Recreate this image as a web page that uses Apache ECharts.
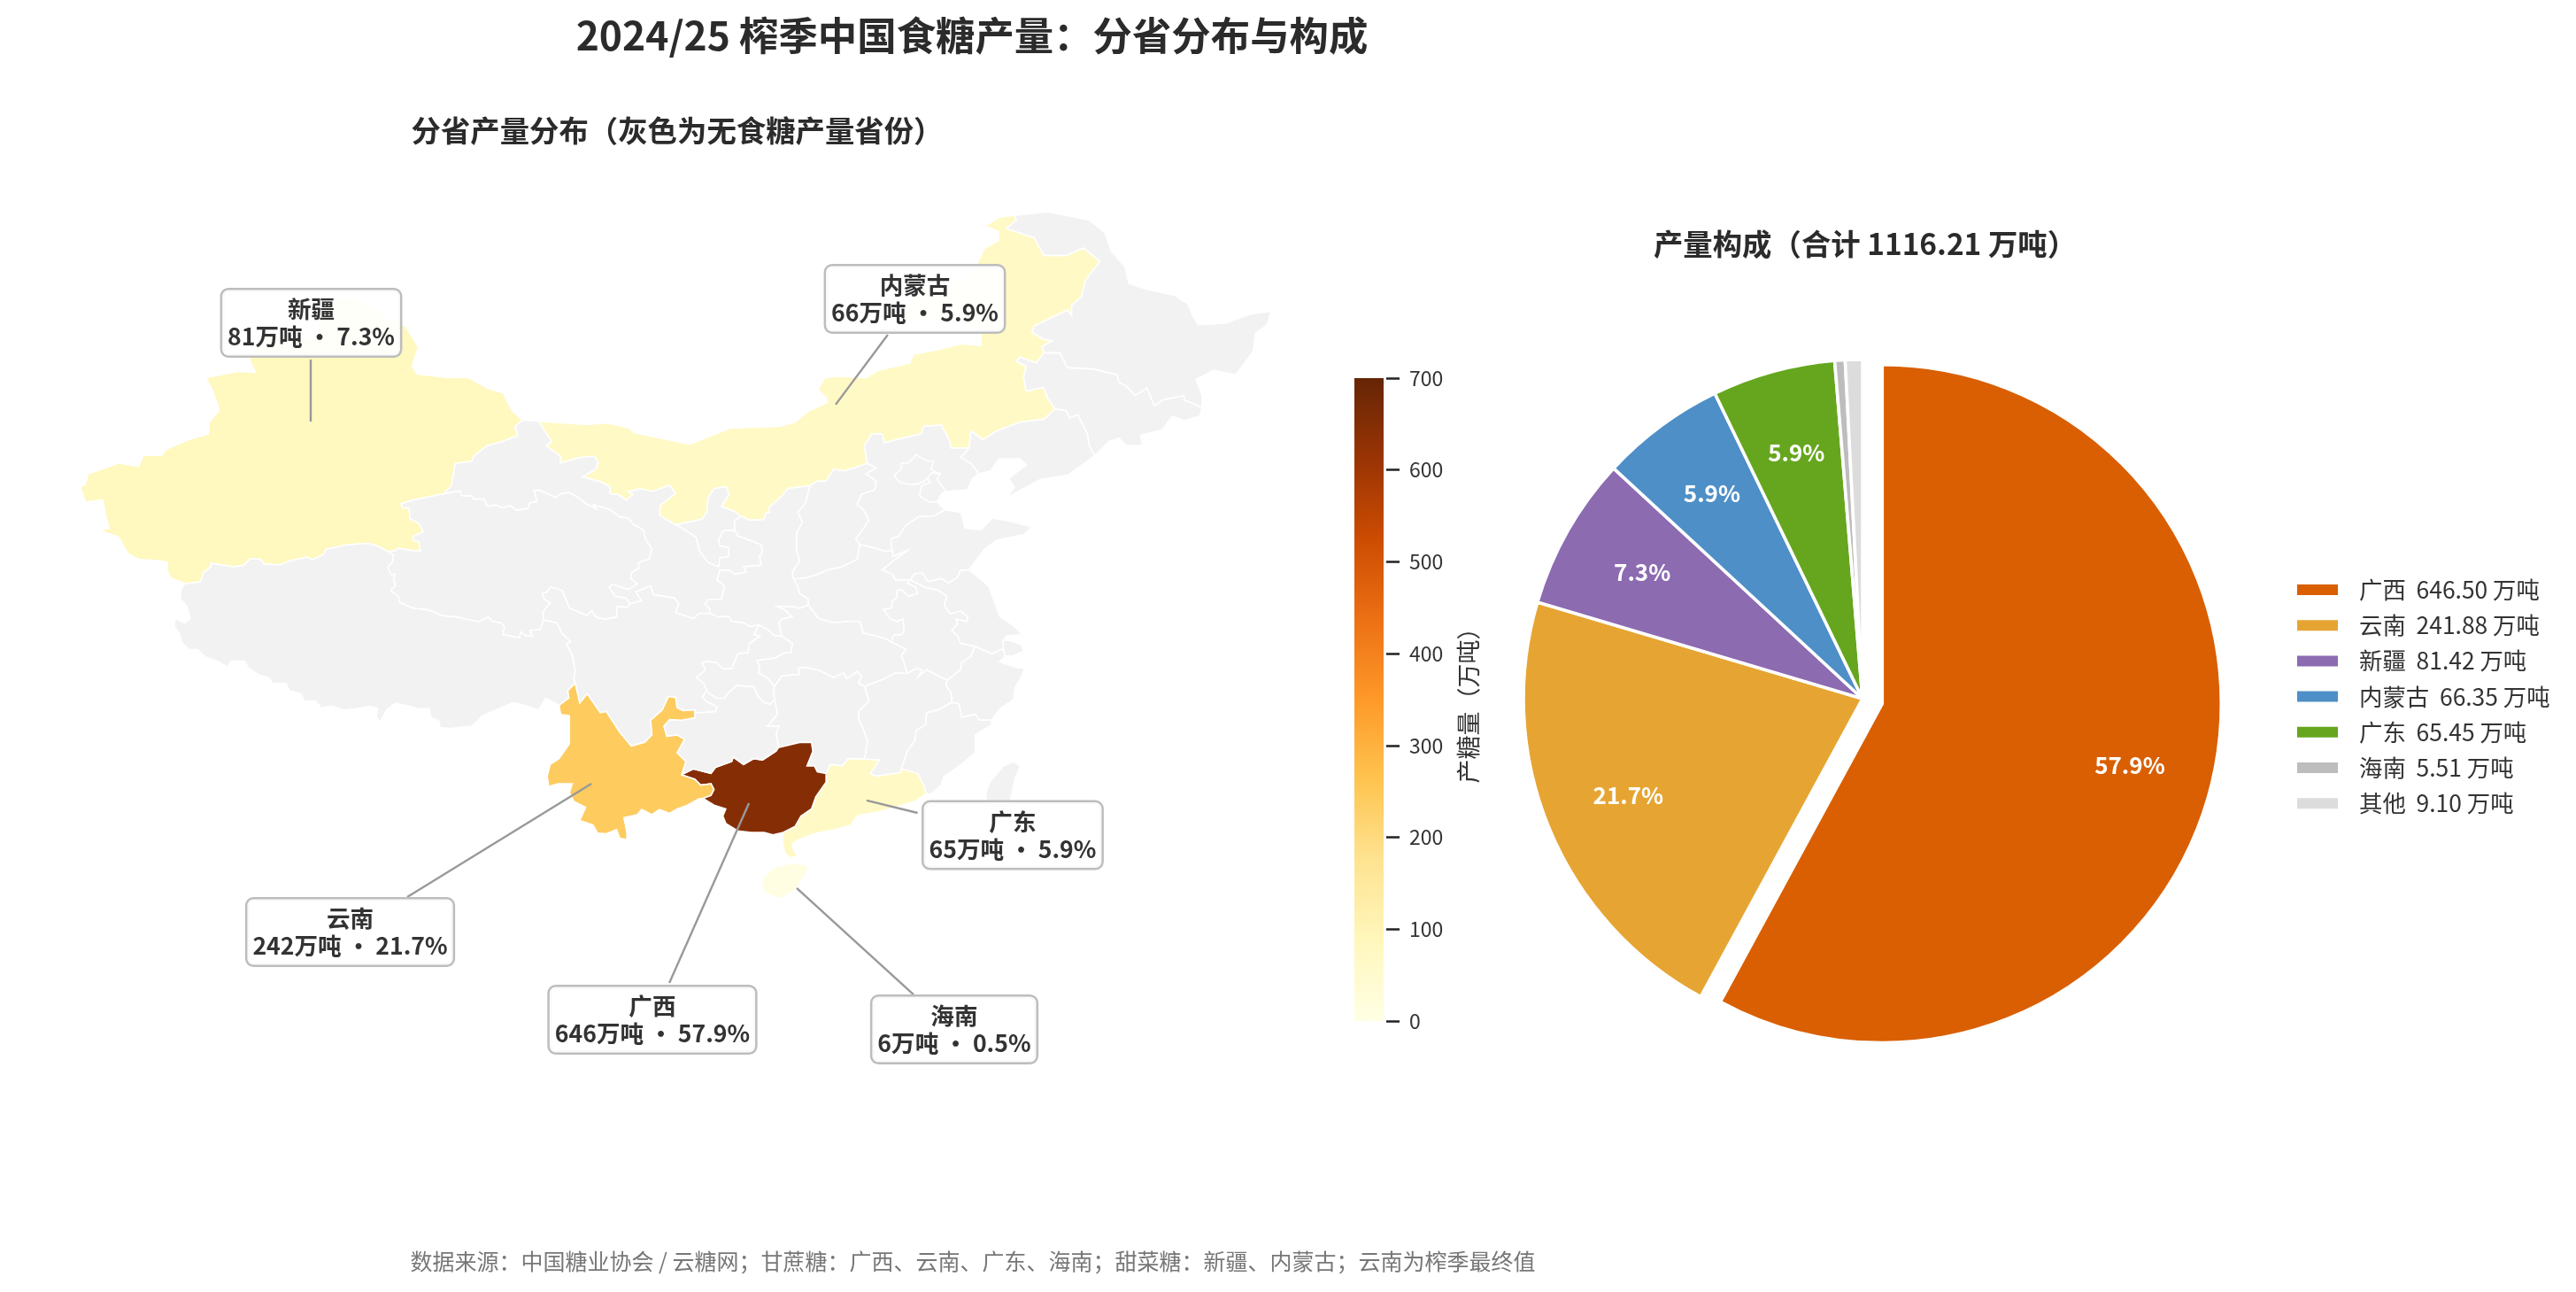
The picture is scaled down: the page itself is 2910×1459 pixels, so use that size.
<!DOCTYPE html>
<html>
<head>
<meta charset="utf-8">
<style>html,body{margin:0;padding:0;background:#fff}#c{width:2910px;height:1459px}</style>
<script src="https://cdn.jsdelivr.net/npm/echarts@6/dist/echarts.min.js"></script>
</head>
<body>
<div id="c"></div>
<script>
// ---------- data ----------
const provinces = ['广西','云南','新疆','内蒙古','广东','海南'];
const output = [646.50,241.88,81.42,66.35,65.45,5.51];
const roundedTons = [646,242,81,66,65,6];
const pieNames = ['广西','云南','新疆','内蒙古','广东','海南','其他'];
const pieValues = [646.50,241.88,81.42,66.35,65.45,5.51,9.10];
const pieColors = ['#d95f02','#e6a532','#8c6bb1','#4e8fc7','#66a61e','#bdbdbd','#dcdcdc'];
const ylOrBr = ['#ffffe5','#fff7bc','#fee391','#fec44f','#fe9929','#ec7014','#cc4c02','#993404','#662506'];
const totalTons = 1116.21;
// callout geography [lon, lat]: box centre, leader start (box side), leader end (in province)
const calloutBox = {广西:[102.88,12.03],云南:[87.36,16.53],新疆:[85.36,47.80],内蒙古:[116.36,49.03],广东:[121.38,21.50],海南:[118.38,11.53]};
const leaderFrom = {广西:[103.75,13.91],云南:[90.29,18.32],新疆:[85.34,45.91],内蒙古:[114.97,47.19],广东:[116.50,22.64],海南:[116.29,13.32]};
const leaderTo = {广西:[107.84,23.14],云南:[99.75,24.14],新疆:[85.34,42.73],内蒙古:[112.29,43.60],广东:[113.88,23.28],海南:[110.29,18.78]};

// ---------- simplified province boundaries as shared arcs, lon lat pairs ----------
const arcText = {
xjOuter:'96.2 42.8 95.66 43.31 95.2 44.2 94.4 44.45 93.46 44.98 92.3 45 90.8 45.16 90.55 45.58 90.86 46.57 90.2 47.63 88.35 48.6 87.5 49.1 86.8 49.1 85.7 48.3 85.6 47.2 85 47 83 47.2 82.3 46.2 82.2 45.9 82.5 45.25 81.6 45.3 79.95 44.98 80.28 44.37 80.65 43.31 80.12 42.7 80.1 42.1 79.07 41.8 77.9 41.3 77.68 41 76.75 41 76.5 40.43 75.47 40.6 74.78 40.35 73.9 40.05 73.78 39.52 73.5 39.37 73.78 38.6 74.66 38.7 74.85 37.7 75 37.25 74.43 37.17 75.47 36.8 75.94 35.96 76.5 35.66 77.56 35.58 78 35.5 77.94 35.12 78.17 34.67 78.7 34.5 78.85 34.4',
xjTb:'78.85 34.4 79.68 34.5 79.83 34.97 80.2 35.27 80.2 35.45 80.9 35.35 81.35 35.27 81.88 35.35 82.26 35.7 82.79 35.65 82.94 35.42 83.77 35.38 84.3 35.58 85.14 35.77 85.44 35.65 85.97 35.88 86.12 36.18 87.26 36.41 88.32 36.48 88.77 36.33 89.3 36.06',
xjQh:'89.3 36.06 89.68 36.1 89.83 36.23 90.6 36.1 90.97 36.1 90.9 36.56 90.6 36.64 90.6 36.86 91.12 37.06 90.9 37.5 90.44 37.73 90.38 38.3 90.06 38.3 89.98 38.5 90.5 38.68 92.18 39.03',
xjGs:'92.18 39.03 92.56 39.44 92.76 40.58 93.62 40.7 93.7 40.95 94.38 41.48 95.14 41.7 95.97 42 95.82 42.47 96.2 42.8',
tbOuter:'98.09 28.16 97.41 28.53 97.03 27.92 96.35 28.15 95.74 28.3 95.21 28.08 94.15 27.62 93.62 27.09 92.48 26.97 91.95 27.02 91.95 27.32 91.5 27.55 91.42 28 90.89 27.97 90.44 28.12 89.68 28.27 89.23 27.92 88.92 27.32 88.7 27.55 88.77 28 88.39 28.12 87.56 27.97 87.03 27.92 86.42 28.12 86.12 28.08 85.89 28 85.59 28.38 85 28.38 84.83 28.76 84.23 28.91 84.08 29.29 83.39 29.29 83.17 29.59 82.64 29.74 82.1 30.12 81.95 30.42 81.27 30.45 81.05 30.12 80.59 30.42 79.91 30.65 79.53 31.03 79.08 31.03 78.7 31.41 78.62 31.79 78.32 32.24 78.39 32.62 78.85 32.39 79.15 32.62 78.98 33.23 78.65 33.61 78.65 34.06 78.85 34.4',
tbQh:'89.3 36.06 89.6 35.88 89.53 35.5 89.3 35.27 89.45 34.89 89.68 34.89 89.6 34.67 89.68 34.29 89.45 34.06 89.83 33.76 89.91 33.45 90.59 33.15 91.35 33.08 92.1 32.77 92.86 32.7 93.47 32.55 94 32.47 94.45 32.7 94.68 32.47 95.14 32.39 95.29 32.17 95.21 31.79 95.67 31.71 96.05 31.64 96.12 31.94 96.35 31.76 96.73 31.71 96.58 32.02 97.1 32.06 97.3 32.55',
tbSc:'97.3 32.55 98 32.39 98.24 31.86 98.7 31.41 98.47 31.33 98.77 30.73 98.92 29.97 98.85 29.6 98.92 29.29',
tbYn:'98.92 29.29 98.54 28.92 98.59 28.54 98.09 28.16',
qhGs:'92.18 39.03 93.01 39.18 93.09 38.94 93.62 38.91 93.7 38.76 94.23 38.76 94.41 38.38 94.83 38.45 95.21 38.3 95.59 38.42 95.89 38.18 96.5 38.27 96.58 38.56 96.95 38.64 96.8 39.21 97.1 39.21 97.94 38.83 98.17 39.03 98.62 39.09 99.08 38.83 99.53 38.48 100 38.26 99.83 38.48 100.14 38.38 100.67 38.23 101.2 37.85 101.65 37.78 101.88 37.47 102.41 37.17 102.56 36.64 102.86 36.19 102.71 35.66 102.18 35.5 102.18 35.2 101.8 34.97 101.77 34.67 102.11 34.4 101.65 34.11 100.82 34.37 100.67 34.22 100.97 33.76 101.5 33.68 101.73 33.38',
qhSc:'97.3 32.55 97.26 32.92 97.41 33.15 97.64 33.42 97.33 33.61 97.23 33.91 97.48 33.98 97.64 34.24 98.24 34.06 98.62 33.15 99.53 32.78 99.76 33.03 99.98 32.7 100.44 32.58 101.05 32.7 101.05 33.23 101.58 33.19 101.73 33.38',
gsOuter:'96.2 42.8 97.03 42.75',
gsIm:'97.03 42.75 97.71 41.71 97.44 41.48 98.17 40.95 98.17 40.6 99.08 40.88 99.91 40.96 100.1 40.65 99.98 40.28 99.3 39.9 100.14 39.67 100.71 39.4 100.71 39.03 101.12 38.99 101.53 38.7 101.88 38.99 101.65 39.14 102.26 39.29 102.86 39.14 103.77 39.47 104.07 39.03 103.29 38.43 103.24 37.93 104.07 37.43',
gsNx:'104.07 37.43 104.45 37.25 105.14 36.79 105.29 36.11 105.74 35.5 106.27 35.28 106.35 35.73 106.8 35.81 106.8 36.26 106.35 36.34 106.27 36.64 106.5 37.12 107.11 37.17',
gsSx:'107.11 37.17 107.26 36.87 108.47 36.41 108.54 36.03 108.39 35.81 108.47 35.35 107.56 35.28 107.71 35 107.11 34.9 106.8 35.1 106.35 35.1 106.2 34.6 106.58 34.29 106.42 33.61 105.74 33.61 105.59 33.34 105.82 33.15 105.82 32.88',
gsSc:'101.73 33.38 102.33 33.53 102.03 33.99 102.79 34.29 102.94 33.84 104 33.68 104.23 33.38 104.07 32.93 105 32.62 105.29 32.88 105.82 32.88',
imNx:'104.07 37.43 105.44 37.73 105.67 38.08 105.74 38.84 106.05 39.29 106.65 39.4 106.83 38.99 106.42 38.38 107.1 38.12 107.41 37.88',
nxSx:'107.41 37.88 107.11 37.62 107.11 37.17',
imSx:'107.41 37.88 107.86 37.67 108.62 37.7 108.7 38.03 108.92 38.08 108.85 38.3 109.53 38.91 109.83 39.29 110.97 39.44',
imSh:'110.97 39.44 111.35 39.67 111.8 39.67 112.18 40.28 112.71 40.2 113.24 40.35 113.92 40.58',
imHeb:'113.92 40.58 113.76 41.49 114.17 42.1 114.67 42.1 114.78 41.64 115.69 41.87 116.7 42.1 116.8 42.48 117.72 42.55 118.12 41.79 118.22 41.37 119.14 41.37',
imLn:'119.14 41.37 119.24 42.25 119.85 41.79 120.56 42.25 121.77 42.7 122.99 42.85 123.56 43.38',
imJl:'123.56 43.38 123.19 43.92 122.95 44.49 122.08 44.29 121.94 44.98 122.08 45.58 121.57 45.81 121.77 46.04 122.59 45.73 122.99 46.26',
imHl:'122.99 46.26 122.89 46.57 123.4 46.87 122.99 46.95 122.38 47.32 122.48 47.63 124.2 48.46 124.41 48.16 124.41 48.69 124.92 49.14 125.12 49.98 125.87 50.96 125.02 51.64 124.11 51.26 122.99 51.26 122.48 52.17 121.77 52.4 121.07 52.63 121.57 53.08 121.47 53.31',
imOuter:'121.47 53.31 120.76 53.23 119.95 52.78 120.66 52.48 120.66 52.02 119.95 51.64 119.54 50.81 119.2 50.3 118 49.6 116.7 49.85 115.6 47.9 117.8 47.9 118.5 48 119.75 47.25 119.75 46.64 118.73 46.72 117.51 46.42 116.3 46.19 116.09 45.73 114.47 45.36 113.86 44.98 112.44 45.05 111.73 44.98 111.39 44.37 111.83 43.92 111.83 43.69 110.82 43.23 110.21 42.7 109.4 42.48 107.17 42.4 106.91 42.4 105.75 41.95 104.82 41.57 103.66 41.8 101.93 42.17 101.69 42.4 100.53 42.67 99.49 42.58 97.03 42.75',
sxSh:'110.97 39.44 110.74 38.53 110.36 38.08 110.59 37.55 110.29 37.02 110.29 36.11 110.44 35.58 110.06 34.97 110.14 34.64',
sxHen:'110.14 34.64 110.36 34.22 110.44 33.91 110.89 33.61 110.89 33.3',
sxHub:'110.89 33.3 110.44 33.15 110.06 33.23 109.3 33.23 109.68 33.08 110.06 32.7 109.53 32.6 109.38 32.4 109.53 31.72',
sxCq:'109.53 31.72 109.15 31.72 108.85 32.02 108.35 32.28',
sxSc:'108.35 32.28 107.86 32.22 107.56 32.4 106.95 32.47 106.8 32.73 106.27 32.7 105.82 32.88',
shHeb:'113.92 40.58 114.38 40.35 113.85 40.05 114.38 39.67 114.3 39.22 113.62 38.99 113.39 38.46 113.7 38.23 114 37.67 113.62 37.09 113.32 36.72 113.54 36.41',
shHen:'110.14 34.64 110.74 34.7 111.42 34.9 111.88 35.12 112.56 35.25 113.39 35.65 113.54 36.41',
hebLn:'119.14 41.37 118.73 40.89 119.24 40.58 119.64 40.05',
hebCoast:'119.64 40.05 119.34 39.82 119.04 39.22 117.92 39.14 117.72 39 117.51 38.61 117.9 38.2',
hebSd:'115.21 36.11 115.14 36.41 115.14 36.72 115.51 36.82 115.89 37.4 116.58 37.85 117.33 37.88 117.9 38.2',
hebHen:'113.54 36.41 114.23 36.26 114.83 36.06 115.21 36.11',
lnJl:'123.56 43.38 124.11 43.3 124.31 42.93 124.72 43.08 125.22 42.1 125.32 41.49 125.59 40.96',
lnCoast:'125.59 40.96 124.21 39.98 122.79 39.75 121.67 39.14 121.07 38.84 121.47 39.37 121.17 39.82 122.08 40.5 121.77 40.81 120.66 40.81 120.25 40.2 119.64 40.05',
jlHl:'122.99 46.26 123.8 46.26 124.2 45.5 125.53 45.43 126.74 45.13 126.85 44.75 127.25 44.52 127.66 44.07 128.27 44.45 128.67 43.54 129.08 43.84 130.19 44.07 130.19 43.84 131.1 43.46',
jlOuter:'131.1 43.46 131 43.01 130.19 42.78 129.58 43.01 129.08 42.32 127.96 42.02 128.06 41.49 127.25 41.49 126.85 41.87 126.34 41.72 125.59 40.96',
hlOuter:'121.47 53.31 123.19 53.49 125.32 53.08 126.13 52.4 126.44 51.49 127.15 50.66 127.35 49.82 128.27 49.52 129.68 49.22 130.39 48.76 130.6 48.23 130.9 47.7 132.32 47.78 133.54 48.23 134.65 48.39 134.45 47.7 133.84 47.25 133.74 46.34 132.83 45.13 131.71 45.36 130.8 44.9 131.1 44.07 131.1 43.46',
henSd:'115.21 36.11 115.21 35.81 115.97 36.11 115.14 35.5 114.68 35.1 115.21 34.9 115.36 34.6 116.12 34.6',
sdCoast:'117.9 38.2 118.73 38.08 118.93 37.25 119.75 37.17 120.35 37.78 121.17 37.63 122.38 37.32 121.98 36.94 120.56 36.64 119.95 36.19 119.14 35.12',
sdJs:'119.14 35.12 118.7 35.09 118.55 34.74 118.09 34.44 117.71 34.67 117.03 34.52 116.73 34.97 116.35 34.9 116.12 34.6',
henAh:'116.12 34.6 115.97 34.44 116.42 34.22 116.5 33.91 116.05 33.76 115.67 34.09 115.44 34.06 115.44 33.68 115.21 33.53 115.14 33.15 114.76 33.08 115.06 32.62 115.44 32.47 115.74 32.6 115.82 32.02 115.67 31.79 115.29 31.79 115.14 31.41',
henHub:'115.14 31.41 114.91 31.56 114.38 31.72 113.7 31.87 113.54 32.47 113.01 32.47 112.18 32.4 111.42 32.62 110.89 33.3',
jsCoast:'119.14 35.12 120.14 34.3 120.74 32.7 121.5 32.2 121.85 31.8 121.05 31.72 120.9 31.49 120.9 31.05 120.74 31 120.29 30.81 119.45 31.19',
jsAh:'116.12 34.6 116.88 34.22 117.56 34.06 118 33.76 117.86 33.3 118.17 32.85 118.7 33 119.08 32.7 119 32.47 118.47 32.6 118.55 32.32 118.24 32.02 118.55 31.72 118.7 31.34 119.45 31.19',
ahZj:'119.45 31.19 119.23 30.66 118.77 30.36 118.7 29.98 118.02 29.45',
ahJx:'118.02 29.45 117.26 29.83 116.96 29.98 116.5 29.6 116.73 29.98 116.43 30.05 115.97 29.8',
ahHub:'115.97 29.8 115.82 30.28 115.67 30.73 115.9 31.04 115.14 31.41',
zjCoast:'119.45 31.19 120.29 30.81 120.74 31 120.9 31.05 121 30.7 120.7 30.4 121 30.3 121.5 30.13 122 30.05 121.73 29.45 121.5 29.07 121.43 28.46 120.74 28 120.29 27.4',
zjJx:'118.02 29.45 117.94 29.22 118.24 28.76 118.24 28.31',
zjFj:'118.24 28.31 118.62 28.23 118.77 27.55 119.46 27.7 119.68 27.4 120.29 27.4',
jxFj:'118.24 28.31 117.56 27.93 116.96 27.78 116.91 27.17 116.43 26.87 116.35 26.34 115.97 25.81 115.74 25.13 115.64 24.72',
jxGd:'115.64 24.72 114.38 24.52 114.07 24.67 114.53 25.35 113.77 25.4',
hubJx:'113.77 29.14 114.76 29.52 115.36 29.83 115.97 29.8',
hunJx:'113.77 29.14 114 28.39 113.47 27.86 113.47 27.48 113.7 26.95 113.93 26.34 113.77 25.4',
fjCoast:'120.29 27.4 120.29 27.17 119.46 26.64 119.46 25.73 118.55 24.98 117.86 24.52 117.71 24.07 117.18 23.61 116.95 23.64',
gdFj:'115.64 24.72 115.67 24.9 116.5 24.67 116.8 24.07 116.95 23.64',
gdCoast:'116.95 23.64 116.35 23.23 115.59 23 114.53 22.7 113.7 22.55 113.39 22.48 113.09 22.02 112.26 21.79 111.2 21.57 110.36 21.26 110.06 21.04 110.14 20.73 110.33 20.43 109.98 20.33 109.68 20.58 109.56 21.11 109.6 21.64',
hubHun:'113.77 29.14 113.47 29.29 113.62 29.67 113.39 29.9 112.86 29.52 112.71 29.82 112.18 29.59 111.5 29.94 110.74 30.12 110.36 30.05 110.44 29.75 109.53 29.67 109.15 29.14',
cqHub:'109.53 31.72 110.06 31.34 110 30.88 109.68 30.88 109.15 30.58 108.24 30.47 108.39 30.2 108.32 29.82 108.77 29.59 109.15 29.14',
hunCq:'109.15 28.46 109.1 28.79 109.15 29.14',
hunGz:'109.35 26 109.3 26.34 109.23 26.72 109.38 27.09 108.77 27.09 109.3 27.7 109.15 28.46',
hunGx:'111.8 24.67 111.35 24.75 111.2 25.05 110.82 25.05 111.12 25.81 111.05 26.26 110.44 26.26 109.83 26.11 109.35 26',
hunGd:'113.77 25.4 112.94 25.43 112.63 25.05 112.03 25.13 111.8 24.67',
gxGz:'104.38 24.6 104.98 24.9 105.89 24.67 106.12 24.98 106.95 25.28 107.03 25.51 107.56 25.13 108.09 25.43 108.54 25.36 109.23 25.81 109.35 26',
gxGd:'111.8 24.67 111.8 24.22 111.27 23.46 111.05 22.85 110.51 22.48 110.21 21.95 109.6 21.64',
gxCoast:'109.6 21.64 109.07 21.52 108.62 21.64 107.94 21.64 107.26 21.72 106.65 22.1 106.5 22.48 106.65 22.85 106.05 23.04 105.47 23.39',
ynGx:'105.47 23.39 105.89 23.54 106.04 23.84 105.89 24.14 105.36 24.07 105.06 24.37 104.38 24.6',
ynGz:'104.38 24.6 104.6 25.28 104.15 25.73 104.53 26.42 104.15 26.64 103.62 26.57 103.47 27.1 103.77 27.43 104.38 27.4 105.06 27.52 105.06 27.93',
scYn:'105.06 27.93 104.45 27.89 104.15 28.04 104.07 28.58 103.7 28.61 103.39 27.93 102.79 27.4 102.86 26.64 102.48 26.26 101.8 26.07 101.2 26.79 100.51 27.85 100.21 27.78 99.53 28.76 99.15 28.28 98.92 29.29',
ynOuter:'98.09 28.16 98.17 27.7 98.62 27.63 98.62 26.19 98.09 25.43 97.63 25.13 97.48 24.52 97.56 23.99 98.01 24.14 98.77 24.14 98.62 23.69 98.85 23.23 99.45 22.93 99.15 22.25 99.83 22.02 100.06 21.61 100.51 21.57 101.04 21.79 101.2 21.34 101.57 21.26 101.57 21.64 101.42 22.4 102.1 22.55 102.33 22.82 102.86 22.55 103.24 22.82 103.77 22.62 104.15 22.85 104.6 23 105.29 23.38 105.47 23.39',
cqGz:'109.15 28.46 108.92 28.23 108.62 28.31 108.32 28.61 108.09 29.14 107.64 29.14 107.26 29.21 106.8 28.84 106.58 28.53 106.2 28.53 105.82 28.76 105.67 28.94',
scGz:'105.67 28.94 105.44 28.58 105.74 28.31 106.2 28.08 106.12 27.85 105.14 27.78 105.06 27.93',
cqSc:'105.67 28.94 105.52 29.29 105.14 29.59 105.59 29.97 105.44 30.35 105.67 30.43 106.2 30.35 106.5 30.05 106.95 30.05 107.26 30.8 107.79 30.88 107.86 31.34 108.39 31.72 108.09 31.79 108.35 32.28'
};
const extraRings = {
海南:'108.47 19.22 109.07 19.82 109.98 20.05 110.82 20 110.86 19.75 110.29 18.76 109.53 18.23 108.62 18.53',
台湾:'119.99 23.61 120.21 24.22 120.9 25.05 121.43 25.28 121.77 25.05 121.5 24.37 121.27 23.3 120.85 21.95 120.15 22.7',
北京:'115.29 39.97 115.67 40.3 115.67 40.58 116.05 40.62 116.42 41.03 116.9 40.75 117.33 40.66 117.18 40.28 117.64 40.05 117.2 40.0 116.8 39.65 116.4 39.5 116.05 39.52 115.6 39.6',
天津:'117.25 40.1 117.64 40.05 117.5 39.75 117.85 39.3 117.92 39.14 117.72 39 117.51 38.61 117.1 38.61 116.6 38.91 116.7 39.44 117.15 39.6 117 39.85',
上海:'120.9 31.49 121.2 31.5 121.8 31.3 121.95 30.95 121.4 30.7 121 30.7 120.9 31.05'
};
const provinceArcs = {
新疆:'xjOuter xjTb xjQh xjGs',
西藏:'tbOuter xjTb tbQh tbSc tbYn',
青海:'xjQh qhGs -qhSc -tbQh',
甘肃:'gsOuter gsIm gsNx gsSx -gsSc -qhGs xjGs',
宁夏:'imNx nxSx -gsNx',
内蒙古:'imOuter gsIm imNx imSx imSh imHeb imLn imJl imHl',
陕西:'imSx sxSh sxHen sxHub sxCq sxSc -gsSx -nxSx',
山西:'imSh shHeb -shHen -sxSh',
河北:'imHeb hebLn hebCoast -hebSd -hebHen -shHeb',
辽宁:'imLn lnJl lnCoast -hebLn',
吉林:'imJl jlHl jlOuter -lnJl',
黑龙江:'imHl hlOuter -jlHl',
山东:'hebSd sdCoast sdJs -henSd',
河南:'hebHen henSd henAh henHub -sxHen shHen',
江苏:'-sdJs jsCoast -jsAh',
安徽:'jsAh ahZj ahJx ahHub -henAh',
浙江:'zjCoast -zjFj -zjJx -ahZj',
江西:'zjJx jxFj jxGd -hunJx hubJx -ahJx',
福建:'zjFj fjCoast -gdFj -jxFj',
湖北:'-henHub -ahHub -hubJx hubHun -cqHub -sxHub',
湖南:'hunJx hunGd hunGx hunGz hunCq -hubHun',
广东:'-hunGd -jxGd gdFj gdCoast -gxGd',
广西:'gxGz -hunGx gxGd gxCoast ynGx',
贵州:'gxGz hunGz cqGz scGz -ynGz',
重庆:'-sxCq cqHub -hunCq cqGz cqSc',
四川:'qhSc gsSc -sxSc -cqSc scGz scYn -tbSc',
云南:'tbYn ynOuter ynGx ynGz scYn'
};
function pairs(s){const n=s.trim().split(/\s+/).map(Number),o=[];for(let i=0;i<n.length;i+=2)o.push([n[i],n[i+1]]);return o;}
function ring(spec){
  let out=[];
  spec.split(' ').forEach(a=>{
    const rev=a[0]==='-';let p=pairs(arcText[rev?a.slice(1):a]);
    if(rev)p=p.slice().reverse();
    out=out.concat(out.length?p.slice(1):p);
  });
  if(out[0][0]!==out[out.length-1][0]||out[0][1]!==out[out.length-1][1])out.push(out[0]);
  return out;
}
const features=[];
Object.keys(provinceArcs).forEach(n=>features.push({type:'Feature',properties:{name:n},geometry:{type:'Polygon',coordinates:[ring(provinceArcs[n])]}}));
Object.keys(extraRings).forEach(n=>{const r=pairs(extraRings[n]);r.push(r[0]);features.push({type:'Feature',properties:{name:n},geometry:{type:'Polygon',coordinates:[r]}});});
echarts.registerMap('sugarProvinces',{type:'FeatureCollection',features});

const FONT='"Noto Sans CJK SC","Noto Sans",sans-serif';
const INK='#2b2b2b';
const chart=echarts.init(document.getElementById('c'),null,{renderer:'canvas',width:2910,height:1459});

const calloutData=provinces.map((p,i)=>({
  name:p,value:calloutBox[p],
  label:{formatter:'{n|'+p+'}\n{v|'+roundedTons[i]+'万吨 · '+(output[i]/totalTons*100).toFixed(1)+'%}'}
}));
const leaderData=provinces.map(p=>({coords:[leaderFrom[p],leaderTo[p]]}));

chart.setOption({
  animation:false,
  backgroundColor:'#fff',
  textStyle:{fontFamily:FONT},
  title:[
    {text:'2024/25 榨季中国食糖产量：分省分布与构成',left:1093,top:13,textAlign:'center',textStyle:{fontFamily:FONT,fontSize:44.4,fontWeight:'bold',color:INK}},
    {text:'分省产量分布（灰色为无食糖产量省份）',left:760,top:126,textAlign:'center',textStyle:{fontFamily:FONT,fontSize:33.4,fontWeight:'bold',color:INK}},
    {text:'产量构成（合计 1116.21 万吨）',left:2102,top:254,textAlign:'center',textStyle:{fontFamily:FONT,fontSize:33.4,fontWeight:'bold',color:INK}},
    {text:'数据来源：中国糖业协会 / 云糖网；甘蔗糖：广西、云南、广东、海南；甜菜糖：新疆、内蒙古；云南为榨季最终值',left:1094,top:1407,textAlign:'center',textStyle:{fontFamily:FONT,fontSize:25,fontWeight:'normal',color:'#777777'}}
  ],
  geo:{
    map:'sugarProvinces',roam:false,silent:true,aspectScale:1,
    boundingCoords:[[73.5,53.55],[134.7,18.2]],
    left:90.6,top:238,width:1346.4,height:777.7,
    itemStyle:{areaColor:'#f2f2f2',borderColor:'#ffffff',borderWidth:1.6},
    emphasis:{disabled:true},label:{show:false}
  },
  visualMap:{show:false,seriesIndex:0,min:0,max:700,inRange:{color:ylOrBr}},
  grid:{left:1530,top:427,width:33,height:726,containLabel:false},
  xAxis:{type:'category',data:['产糖量'],show:false},
  yAxis:{
    type:'value',min:0,max:700,interval:100,position:'right',offset:3,
    axisLine:{show:false},splitLine:{show:false},
    axisTick:{show:true,length:15,lineStyle:{color:'#222',width:2.5}},
    axisLabel:{margin:26,fontSize:23,color:'#333',fontFamily:FONT},
    name:'产糖量（万吨）',nameLocation:'middle',nameRotate:90,nameGap:79,
    nameTextStyle:{fontSize:27,color:'#333',fontFamily:FONT}
  },
  legend:{
    show:true,orient:'vertical',left:2593,top:651,padding:0,
    data:pieNames,selectedMode:false,icon:'rect',itemWidth:48,itemHeight:14,itemGap:10.2,
    formatter:n=>n+'  '+pieValues[pieNames.indexOf(n)].toFixed(2)+' 万吨',
    textStyle:{fontSize:26.4,color:'#333',fontFamily:FONT,lineHeight:30,padding:[0,0,0,18]}
  },
  series:[
    {type:'map',geoIndex:0,data:provinces.map((p,i)=>({name:p,value:output[i]}))},
    {type:'lines',coordinateSystem:'geo',polyline:false,silent:true,z:5,data:leaderData,
      lineStyle:{color:'#999999',width:2.4,opacity:1,curveness:0},symbol:['none','none']},
    {type:'scatter',coordinateSystem:'geo',silent:true,z:6,symbolSize:1,itemStyle:{color:'rgba(255,255,255,0)',opacity:1},data:calloutData,
      labelLayout:{hideOverlap:false},
      label:{show:true,opacity:1,position:'inside',backgroundColor:'rgba(255,255,255,0.92)',borderColor:'#bdbdbd',borderWidth:2.5,borderRadius:7,padding:[6,6,6,6],
        rich:{n:{fontFamily:FONT,fontSize:26.6,fontWeight:'bold',color:'#333',lineHeight:31,align:'center'},
              v:{fontFamily:FONT,fontSize:26.6,fontWeight:'bold',color:'#333',lineHeight:31,align:'center'}}}},
    {type:'bar',xAxisIndex:0,yAxisIndex:0,data:[700],barWidth:'100%',silent:true,
      itemStyle:{color:{type:'linear',x:0,y:1,x2:0,y2:0,colorStops:ylOrBr.map((c,i)=>({offset:i/(ylOrBr.length-1),color:c}))}}},
    {type:'pie',center:[2104,789],radius:[0,383],startAngle:90,clockwise:true,silent:true,
      selectedMode:'multiple',selectedOffset:23,avoidLabelOverlap:false,
      data:pieNames.map((n,i)=>({name:n,value:pieValues[i],selected:i===0,itemStyle:{color:pieColors[i]}})),
      itemStyle:{borderColor:'#fff',borderWidth:3.6},label:{show:false},labelLine:{show:false},emphasis:{disabled:true}},
    {type:'pie',center:[2105,788],radius:[186,383],startAngle:90,clockwise:true,silent:true,z:3,
      selectedMode:'multiple',selectedOffset:23,avoidLabelOverlap:false,legendHoverLink:false,
      data:pieNames.map((n,i)=>({name:n,value:pieValues[i],selected:i===0,
        itemStyle:{color:'rgba(0,0,0,0)'},
        label:{show:pieValues[i]/totalTons>0.01}})),
      label:{show:true,position:'inside',color:'#fff',fontSize:26,fontWeight:'bold',fontFamily:FONT,
        formatter:p=>(p.value/totalTons*100).toFixed(1)+'%'},
      labelLine:{show:false},emphasis:{disabled:true}}
  ]
});
</script>
</body>
</html>
